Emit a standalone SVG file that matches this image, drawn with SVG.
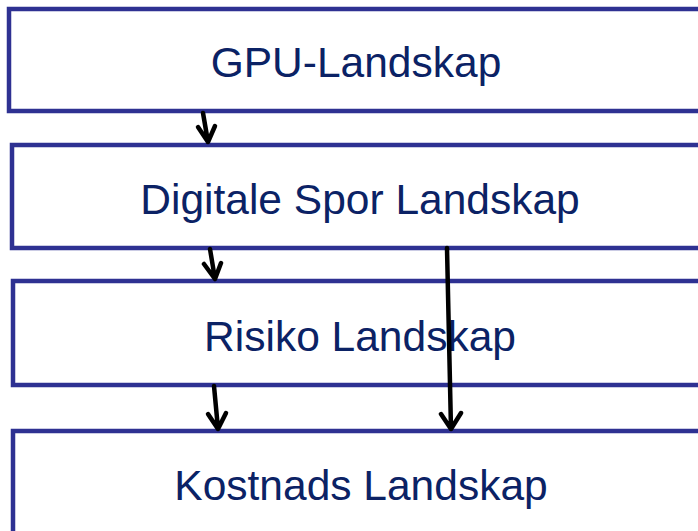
<svg xmlns="http://www.w3.org/2000/svg" width="698" height="531" viewBox="0 0 698 531">
<defs>
<style>
.box{fill:#ffffff;stroke:#2e3192;stroke-width:4.5}
.lbl{font-family:"Liberation Sans",Arial,sans-serif;font-size:42.5px;fill:#0b2265;text-anchor:middle}
.conn{stroke:#000000;stroke-width:4.5;fill:none;stroke-linecap:round;stroke-linejoin:round}
</style>
</defs>
<rect width="698" height="531" fill="#ffffff"/>
<g id="n1"><rect class="box" x="9" y="9" width="700" height="102"/><text class="lbl" x="356" y="77">GPU-Landskap</text></g>
<g id="n2"><rect class="box" x="12" y="145" width="700" height="103"/><text class="lbl" x="360" y="214">Digitale Spor Landskap</text></g>
<g id="n3"><rect class="box" x="13" y="281" width="700" height="104"/><text class="lbl" x="360" y="351">Risiko Landskap</text></g>
<g id="n4"><rect class="box" x="13" y="431" width="700" height="110"/><text class="lbl" x="361" y="500">Kostnads Landskap</text></g>
<g id="connectors">
<path class="conn" d="M203 113 L208 142 M198 127 L208 142 L215 126"/>
<path class="conn" d="M210 249 L215 279 M204 264 L215 279 L221 263"/>
<path class="conn" d="M214 386 L218 429 M208 414 L218 429 L226 413"/>
<path class="conn" d="M447 248 L451 429 M441 414 L451 429 L461 413"/>
</g>
</svg>
